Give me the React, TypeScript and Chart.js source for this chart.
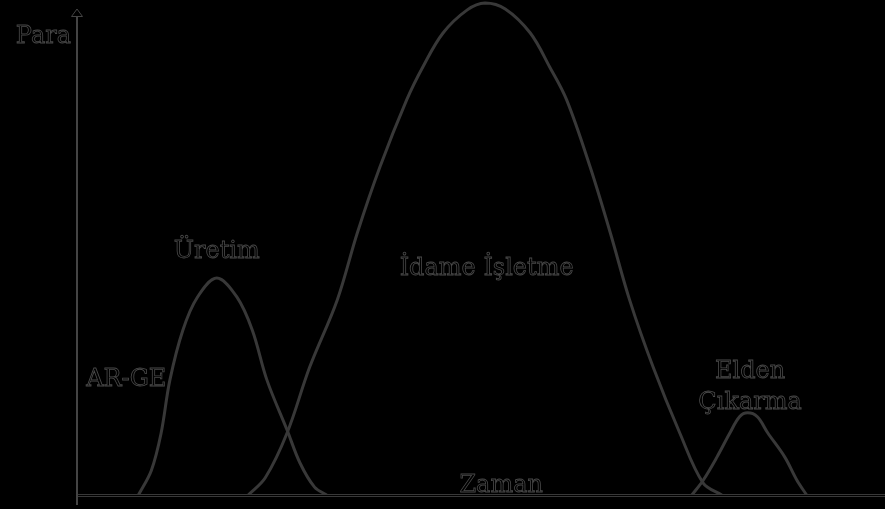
import React, { useEffect, useRef } from "react";
import { Chart, registerables } from "chart.js";

Chart.register(...registerables);

// Time (0-100) vs money (0-100)
const uretimX = [7.6, 9.2, 10.4, 11.5, 13.1, 14.9, 17.3, 19.8, 21.7, 23.5, 26.0, 27.6, 29.4, 30.9];
const uretimY = [0, 5.0, 12.5, 23.4, 33.5, 40.2, 44.1, 40.2, 33.5, 23.4, 13.2, 6.5, 1.6, 0];

const idameX = [21.2, 23.3, 26.0, 28.8, 32.2, 34.7, 37.5, 40.8, 42.8, 45.3, 48.3, 50.5, 53.0, 56.1, 58.5, 60.6, 63.5, 66.0, 68.4, 71.3, 74.6, 77.5, 79.8];
const idameY = [0, 3.5, 12.6, 26.0, 39.6, 53.3, 66.7, 80.3, 87.0, 93.9, 98.6, 100, 98.8, 93.9, 87.0, 80.3, 66.7, 53.3, 39.6, 26.0, 12.6, 2.4, 0];

const eldenX = [76.1, 77.5, 79.2, 80.8, 82.0, 83.0, 84.2, 85.5, 87.6, 89.1, 90.3];
const eldenY = [0, 3.0, 7.7, 12.6, 15.9, 16.7, 15.9, 12.6, 7.7, 3.0, 0];

const labelTexts = ["Üretim", "AR-GE", "İdame İşletme", "Zaman", "Elden", "Çıkarma"];
const labelX = [17.3, 6.1, 50.7, 52.5, 83.3, 83.3];
const labelY = [48.2, 22.2, 44.7, 0.6, 23.8, 17.5];

const yAxisTitle = "Para";

const GRAY = "#383838";
const TEXT_GRAY = "#4a4a4a";
const FONT = '24px "DejaVu Serif"';

function pts(xs: number[], ys: number[]) {
  return xs.map((x, i) => ({ x, y: ys[i] }));
}

export default function App() {
  const ref = useRef<HTMLCanvasElement | null>(null);

  useEffect(() => {
    document.body.style.margin = "0";
    document.body.style.background = "#000";
    if (!ref.current) return;

    const series = [pts(uretimX, uretimY), pts(idameX, idameY), pts(eldenX, eldenY)];
    const datasets: any[] = [];
    series.forEach((d) => {
      datasets.push({ data: d, borderColor: GRAY, borderWidth: 3, pointRadius: 0, tension: 0.35, fill: false });
    });
    series.forEach((d) => {
      datasets.push({ data: d, borderColor: "#000", borderWidth: 1.3, pointRadius: 0, tension: 0.35, fill: false });
    });

    const bgPlugin = {
      id: "bg",
      beforeDraw(chart: any) {
        const c = chart.ctx;
        c.save();
        c.fillStyle = "#000";
        c.fillRect(0, 0, chart.width, chart.height);
        c.restore();
      },
    };

    const axesPlugin = {
      id: "axesDraw",
      afterDatasetsDraw(chart: any) {
        const c = chart.ctx;
        const a = chart.chartArea;
        c.save();
        // x axis (hollow)
        c.strokeStyle = GRAY;
        c.lineWidth = 3;
        c.beginPath();
        c.moveTo(a.left, a.bottom + 0.5);
        c.lineTo(chart.width, a.bottom + 0.5);
        c.stroke();
        c.strokeStyle = "#000";
        c.lineWidth = 1.2;
        c.beginPath();
        c.moveTo(a.left + 1, a.bottom + 0.5);
        c.lineTo(chart.width, a.bottom + 0.5);
        c.stroke();
        // y axis
        c.strokeStyle = "#444";
        c.lineWidth = 2;
        c.beginPath();
        c.moveTo(a.left, a.top + 13);
        c.lineTo(a.left, chart.height - 4);
        c.stroke();
        // arrow head
        c.lineWidth = 1;
        c.fillStyle = "#000";
        c.beginPath();
        c.moveTo(a.left, a.top + 6);
        c.lineTo(a.left + 5.5, a.top + 13.5);
        c.lineTo(a.left - 5.5, a.top + 13.5);
        c.closePath();
        c.fill();
        c.stroke();

        // labels
        c.font = FONT;
        c.lineWidth = 0.8;
        c.strokeStyle = TEXT_GRAY;
        c.fillStyle = "#000";
        c.textBaseline = "alphabetic";
        c.textAlign = "right";
        c.fillText(yAxisTitle, a.left - 6, 43);
        c.strokeText(yAxisTitle, a.left - 6, 43);
        c.textAlign = "center";
        const xs = chart.scales.x;
        const ys = chart.scales.y;
        labelTexts.forEach((t, i) => {
          const px = xs.getPixelForValue(labelX[i]);
          const py = ys.getPixelForValue(labelY[i]);
          c.fillText(t, px, py);
          c.strokeText(t, px, py);
        });
        c.restore();
      },
    };

    const chart = new Chart(ref.current, {
      type: "line",
      data: { datasets },
      options: {
        animation: false,
        responsive: false,
        events: [],
        layout: { padding: { left: 77, right: 0, top: 3, bottom: 14 }, autoPadding: false } as any,
        plugins: { legend: { display: false }, tooltip: { enabled: false } },
        scales: {
          x: { type: "linear", min: 0, max: 100, display: false },
          y: { type: "linear", min: 0, max: 100, display: false },
        },
        clip: false as any,
      },
      plugins: [bgPlugin, axesPlugin],
    });
    return () => chart.destroy();
  }, []);

  return <canvas ref={ref} width={885} height={509} style={{ display: "block" }} />;
}
